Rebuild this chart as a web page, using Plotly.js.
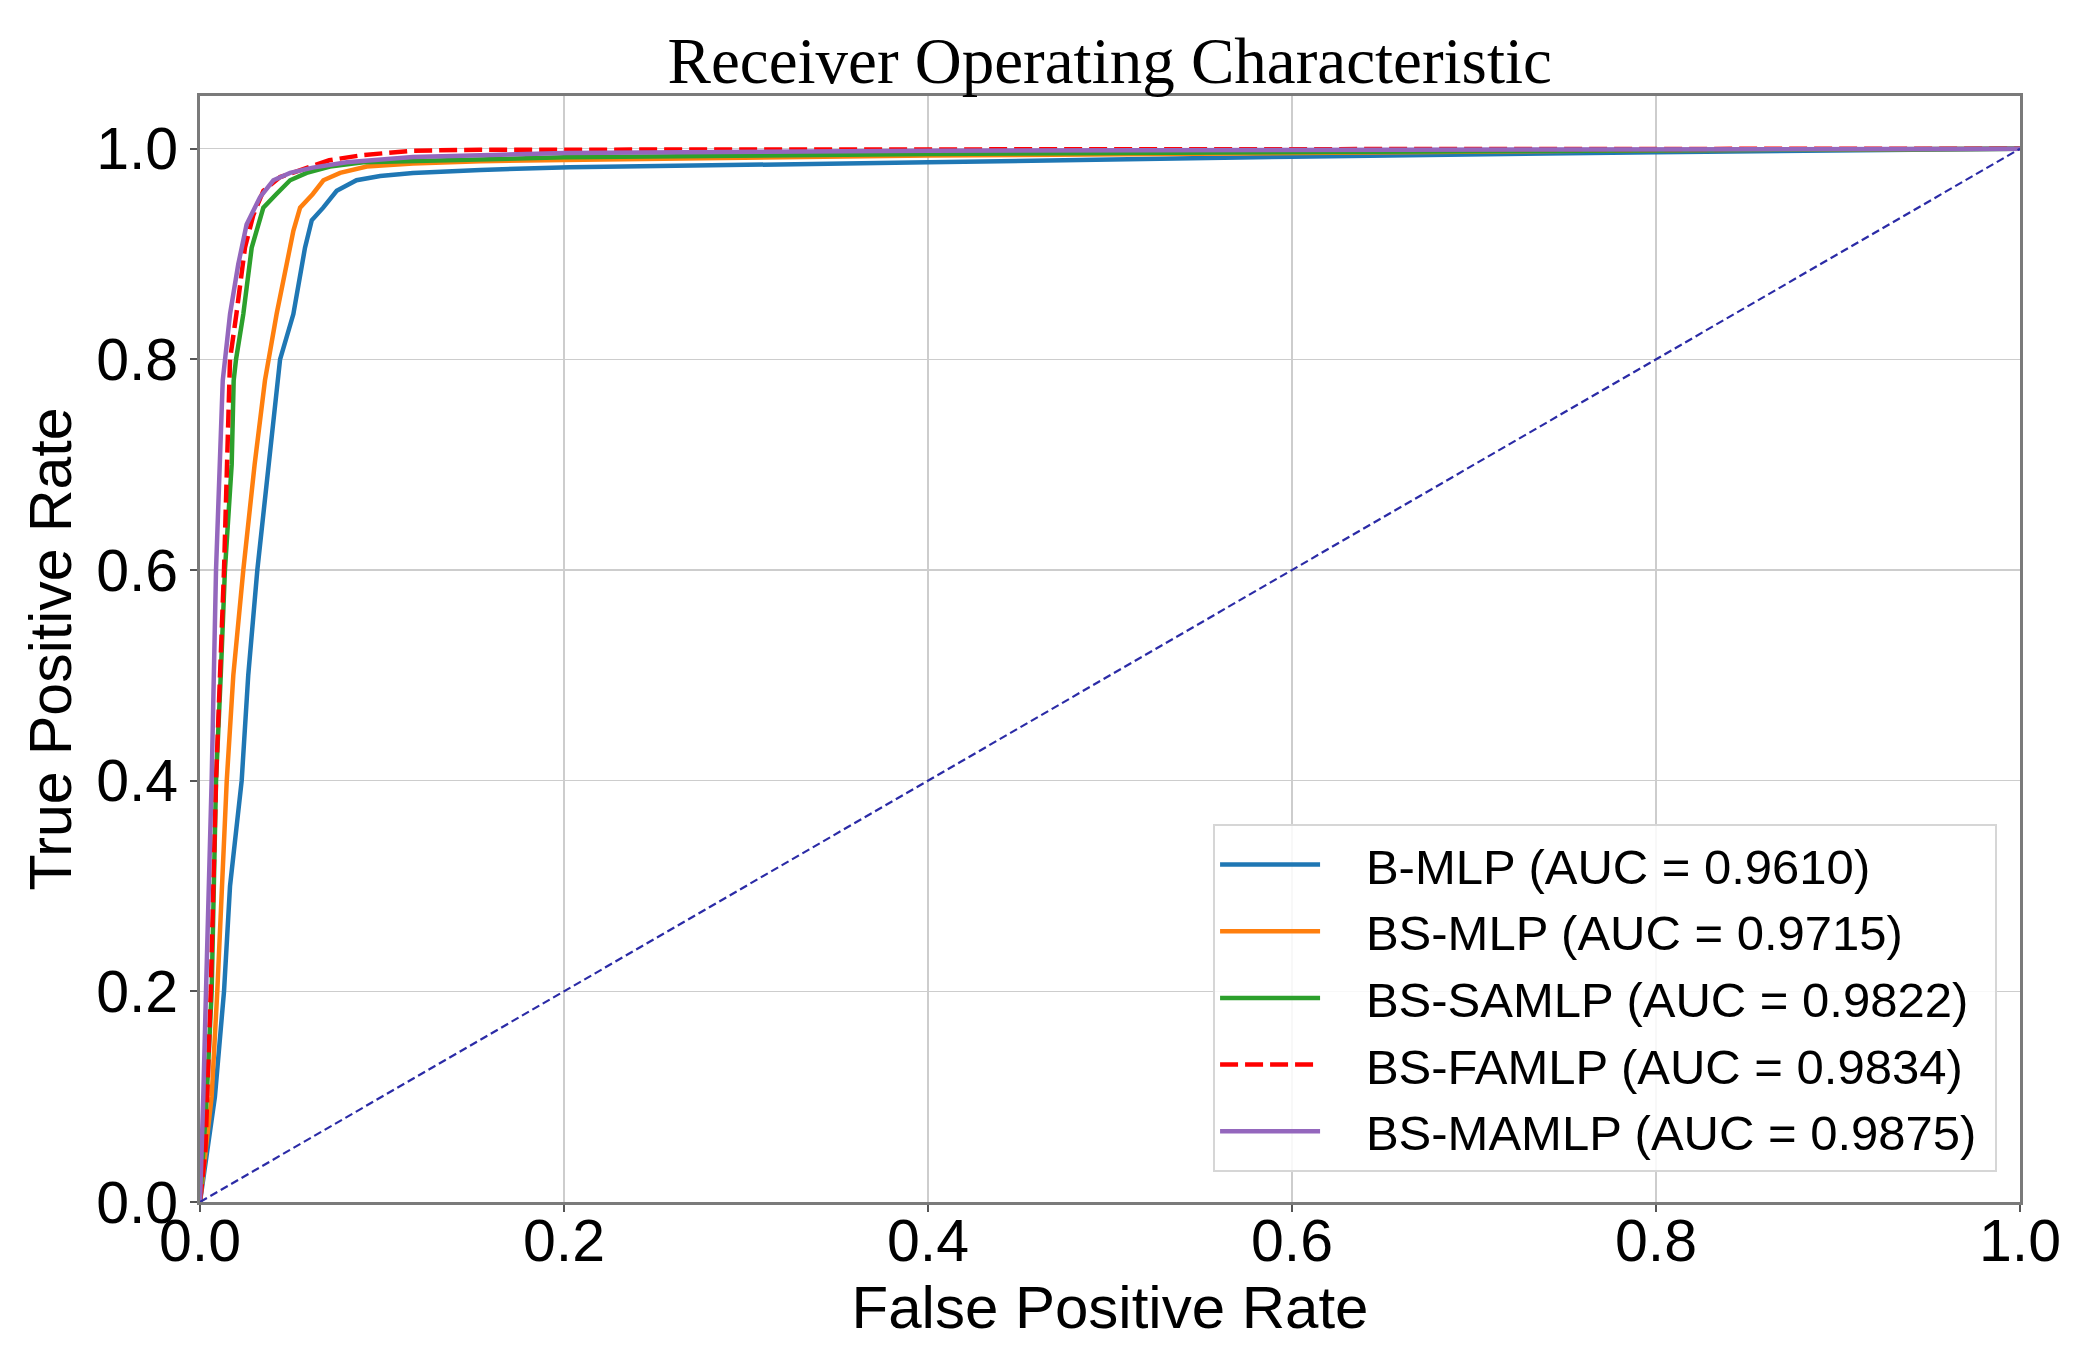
<!DOCTYPE html>
<html>
<head>
<meta charset="utf-8">
<script src="https://cdn.plot.ly/plotly-3.0.1.min.js"></script>
<style>html,body{margin:0;padding:0;background:#fff;}#chart{width:2084px;height:1364px;}</style>
</head>
<body>
<div id="chart"></div>
<script>
// ---- data ----
const seriesNames = ["B-MLP (AUC = 0.9610)", "BS-MLP (AUC = 0.9715)", "BS-SAMLP (AUC = 0.9822)", "BS-FAMLP (AUC = 0.9834)", "BS-MAMLP (AUC = 0.9875)"];

const bmlpFpr = [0, 0.004, 0.0082, 0.0132, 0.0165, 0.0229, 0.0265, 0.0315, 0.0385, 0.044, 0.0513, 0.0577, 0.0614, 0.0677, 0.0751, 0.086, 0.099, 0.117, 0.154, 0.203, 0.4, 0.6, 0.8, 1.0];
const bmlpTpr = [0, 0.05, 0.1, 0.2, 0.3, 0.4, 0.5, 0.6, 0.716, 0.8, 0.843, 0.906, 0.932, 0.944, 0.96, 0.97, 0.974, 0.977, 0.9798, 0.9823, 0.987, 0.9924, 0.9966, 1.0];

const bsmlpFpr = [0, 0.003, 0.0064, 0.0095, 0.0119, 0.0147, 0.0183, 0.0238, 0.030, 0.0357, 0.0421, 0.0476, 0.0513, 0.055, 0.062, 0.0678, 0.077, 0.0916, 0.117, 0.154, 0.2, 0.4, 0.6, 0.8, 1.0];
const bsmlpTpr = [0, 0.05, 0.1, 0.2, 0.3, 0.4, 0.5, 0.6, 0.7, 0.78, 0.843, 0.89, 0.922, 0.944, 0.957, 0.97, 0.977, 0.983, 0.986, 0.988, 0.9893, 0.9934, 0.996, 0.9984, 1.0];

const samlpFpr = [0, 0.002, 0.0037, 0.0064, 0.0088, 0.0114, 0.0137, 0.0174, 0.0185, 0.0198, 0.0238, 0.0284, 0.0348, 0.042, 0.0495, 0.0586, 0.0714, 0.0897, 0.154, 0.2, 0.4, 0.6, 0.8, 1.0];
const samlpTpr = [0, 0.05, 0.1, 0.2, 0.4, 0.5, 0.6, 0.7, 0.78, 0.8, 0.843, 0.906, 0.944, 0.957, 0.97, 0.977, 0.983, 0.987, 0.99, 0.9918, 0.995, 0.997, 0.9985, 1.0];

const famlpFpr = [0, 0.003, 0.0059, 0.0088, 0.0132, 0.0165, 0.020, 0.0247, 0.0293, 0.0348, 0.044, 0.0586, 0.071, 0.0897, 0.117, 0.154, 0.4, 0.6, 1.0];
const famlpTpr = [0, 0.05, 0.2, 0.4, 0.6, 0.8, 0.843, 0.906, 0.937, 0.96, 0.973, 0.982, 0.989, 0.994, 0.998, 0.999, 0.9995, 1.0, 1.0];

const mamlpFpr = [0, 0.001, 0.0018, 0.0033, 0.0064, 0.0088, 0.0106, 0.0125, 0.0165, 0.021, 0.0256, 0.033, 0.0403, 0.0495, 0.062, 0.0806, 0.117, 0.154, 0.2, 0.4, 0.6, 0.8, 1.0];
const mamlpTpr = [0, 0.05, 0.1, 0.2, 0.4, 0.6, 0.7, 0.78, 0.843, 0.89, 0.928, 0.954, 0.97, 0.977, 0.982, 0.987, 0.992, 0.994, 0.996, 0.998, 0.999, 0.9995, 1.0];

const chanceX = [0, 1];
const chanceY = [0, 1];

const tickVals = [0, 0.2, 0.4, 0.6, 0.8, 1.0];
const tickText = ["0.0", "0.2", "0.4", "0.6", "0.8", "1.0"];

// ---- styling ----
const colors = ["#1f77b4", "#ff7f0e", "#2ca02c", "#ff0000", "#9467bd"];
const xs = [bmlpFpr, bsmlpFpr, samlpFpr, famlpFpr, mamlpFpr];
const ys = [bmlpTpr, bsmlpTpr, samlpTpr, famlpTpr, mamlpTpr];
const padL = "\u00a0\u00a0\u00a0";
const padR = "\u00a0";

const traces = [];
for (let i = 0; i < seriesNames.length; i++) {
  traces.push({
    x: xs[i], y: ys[i], type: "scatter", mode: "lines", name: padL + seriesNames[i] + padR,
    line: {color: colors[i], width: 4.5, dash: i === 3 ? "18px,7px" : "solid"},
    hoverinfo: "skip"
  });
}
traces.push({
  x: chanceX, y: chanceY, type: "scatter", mode: "lines", showlegend: false,
  line: {color: "#2b2ba6", width: 2.2, dash: "8px,4px"}, hoverinfo: "skip"
});

const tickFont = {family: "Liberation Sans, Arial, sans-serif", size: 59, color: "#000"};
const axisCommon = {
  showline: true, mirror: true, linecolor: "#7a7a7a", linewidth: 3,
  showgrid: true, gridcolor: "#cdcdcd", gridwidth: 1.5,
  zeroline: false, ticks: "outside", ticklen: 7, tickwidth: 2, tickcolor: "#555",
  tickfont: tickFont, tickvals: tickVals, ticktext: tickText, automargin: false
};

const layout = {
  width: 2084, height: 1364,
  margin: {l: 200, r: 64, t: 96, b: 162},
  paper_bgcolor: "#fff", plot_bgcolor: "#fff",
  title: {
    text: "Receiver Operating Characteristic",
    font: {family: "Liberation Serif, Times New Roman, serif", size: 65, color: "#000"},
    x: 0.5325, xanchor: "center", yref: "container", y: 0.956, yanchor: "middle"
  },
  xaxis: Object.assign({}, axisCommon, {
    range: [0, 1],
    ticklabelstandoff: -22,
    title: {text: "False Positive Rate", font: {family: "Liberation Sans, Arial, sans-serif", size: 60, color: "#000"}, standoff: 0}
  }),
  yaxis: Object.assign({}, axisCommon, {
    range: [0, 1.05],
    title: {text: "True Positive Rate", font: {family: "Liberation Sans, Arial, sans-serif", size: 59, color: "#000"}, standoff: 6}
  }),
  legend: {
    x: 0.9874, xanchor: "right", y: 0.027, yanchor: "bottom",
    bgcolor: "rgba(255,255,255,0.85)", bordercolor: "#d6d6d6", borderwidth: 2,
    font: {family: "Liberation Sans, Arial, sans-serif", size: 49, color: "#000"},
    itemwidth: 100
  },
  showlegend: true
};

Plotly.newPlot("chart", traces, layout, {staticPlot: true, displayModeBar: false});
</script>
</body>
</html>
